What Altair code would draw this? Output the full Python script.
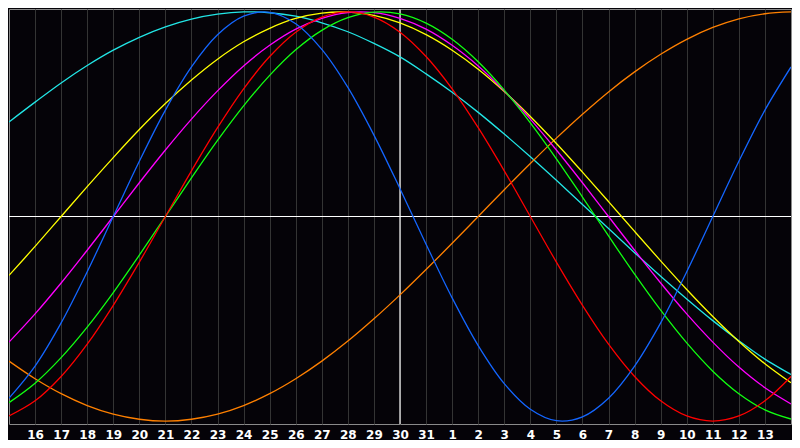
import altair as alt
import pandas as pd

# day index 0..30 (index 0 = the 15th, index 15 = today, the 30th)
day_index = list(range(31))
label_positions = list(range(1, 30))
day_labels = ["16", "17", "18", "19", "20", "21", "22", "23", "24", "25", "26",
              "27", "28", "29", "30", "31", "1", "2", "3", "4", "5", "6", "7",
              "8", "9", "10", "11", "12", "13"]
today_index = [15]
baseline = [0]

# curve values at each day gridline
physical = [-0.888, -0.731, -0.520, -0.270, 0.000, 0.270, 0.520, 0.731, 0.888, 0.979,
            0.998, 0.942, 0.817, 0.631, 0.398, 0.136, -0.136, -0.398, -0.631, -0.817,
            -0.942, -0.998, -0.979, -0.888, -0.731, -0.520, -0.270, 0.000, 0.270, 0.520,
            0.731]
emotional = [-0.975, -0.901, -0.782, -0.624, -0.434, -0.223, 0.000, 0.223, 0.434, 0.624,
             0.782, 0.901, 0.975, 1.000, 0.975, 0.901, 0.782, 0.624, 0.434, 0.223,
             0.000, -0.223, -0.434, -0.624, -0.782, -0.901, -0.975, -1.000, -0.975, -0.901,
             -0.782]
intellectual = [-0.910, -0.815, -0.690, -0.541, -0.372, -0.189, 0.000, 0.189, 0.372, 0.541,
                0.690, 0.815, 0.910, 0.972, 0.999, 0.990, 0.945, 0.866, 0.756, 0.618,
                0.458, 0.282, 0.095, -0.095, -0.282, -0.458, -0.618, -0.756, -0.866, -0.945,
                -0.990]
intuitive = [-0.614, -0.476, -0.325, -0.165, 0.000, 0.165, 0.325, 0.476, 0.614, 0.736,
             0.837, 0.916, 0.969, 0.997, 0.997, 0.969, 0.916, 0.837, 0.736, 0.614,
             0.476, 0.325, 0.165, 0.000, -0.165, -0.325, -0.476, -0.614, -0.736, -0.837,
             -0.916]
aesthetic = [-0.288, -0.146, 0.000, 0.146, 0.288, 0.425, 0.552, 0.667, 0.769, 0.854,
             0.920, 0.968, 0.994, 0.999, 0.983, 0.946, 0.889, 0.813, 0.720, 0.611,
             0.489, 0.357, 0.217, 0.073, -0.073, -0.217, -0.357, -0.489, -0.611, -0.720,
             -0.813]
awareness = [-0.707, -0.793, -0.866, -0.924, -0.966, -0.991, -1.000, -0.991, -0.966, -0.924,
             -0.866, -0.793, -0.707, -0.609, -0.500, -0.383, -0.259, -0.131, 0.000, 0.131,
             0.259, 0.383, 0.500, 0.609, 0.707, 0.793, 0.866, 0.924, 0.966, 0.991,
             1.000]
spiritual = [0.462, 0.559, 0.653, 0.738, 0.813, 0.876, 0.927, 0.965, 0.989, 1.000,
             0.996, 0.979, 0.947, 0.903, 0.846, 0.780, 0.697, 0.607, 0.509, 0.403,
             0.292, 0.177, 0.059, -0.059, -0.177, -0.292, -0.403, -0.509, -0.607, -0.697,
             -0.772]

series_names = ["Spiritual", "Awareness", "Aesthetic", "Intuitive",
                "Intellectual", "Emotional", "Physical"]
series_values = [spiritual, awareness, aesthetic, intuitive,
                 intellectual, emotional, physical]
series_colors = ["#22e6e6", "#ff8000", "#ffff00", "#ff00ff",
                 "#11ff11", "#ff0000", "#1466ff"]

rows = []
for name, vals in zip(series_names, series_values):
    for i, v in zip(day_index, vals):
        rows.append({"i": i, "v": v, "series": name})
df = pd.DataFrame(rows)

bg = "#050308"
label_expr = "[" + ",".join("'%s'" % s for s in day_labels) + "][datum.value - 1]"

x_scale = alt.Scale(domain=[0, 30], nice=False, zero=False)
y_scale = alt.Scale(domain=[-1.0143, 1.0143], nice=False, zero=False)
x_axis = alt.Axis(values=label_positions, labelExpr=label_expr, grid=True,
                  gridColor="#343434", gridWidth=1, domain=False, ticks=False,
                  labelColor="white", labelFont="DejaVu Sans", labelFontSize=12,
                  labelFontWeight="bold", labelPadding=5, labelAngle=0,
                  labelOverlap=False, title=None)

hrule = alt.Chart(pd.DataFrame({"v": baseline})).mark_rule(
    color="white", strokeWidth=1.2).encode(
    y=alt.Y("v:Q", scale=y_scale, axis=None))

vrule = alt.Chart(pd.DataFrame({"i": today_index})).mark_rule(
    color="white", strokeWidth=1.2).encode(
    x=alt.X("i:Q", scale=x_scale, axis=x_axis))

lines = alt.Chart(df).mark_line(
    strokeWidth=1.3, interpolate="catmull-rom", clip=True).encode(
    x=alt.X("i:Q", scale=x_scale, axis=x_axis),
    y=alt.Y("v:Q", scale=y_scale, axis=None),
    color=alt.Color("series:N", scale=alt.Scale(domain=series_names, range=series_colors),
                    legend=None),
)

chart = alt.layer(hrule, vrule, lines).properties(
    width=784, height=432, background=bg, padding=0,
    autosize=alt.AutoSizeParams(type="fit", contains="padding"),
).configure_view(stroke="#8a8a8a", strokeWidth=1, fill=bg)

chart.save("out.html", embed_options={"renderer": "svg", "actions": False})
